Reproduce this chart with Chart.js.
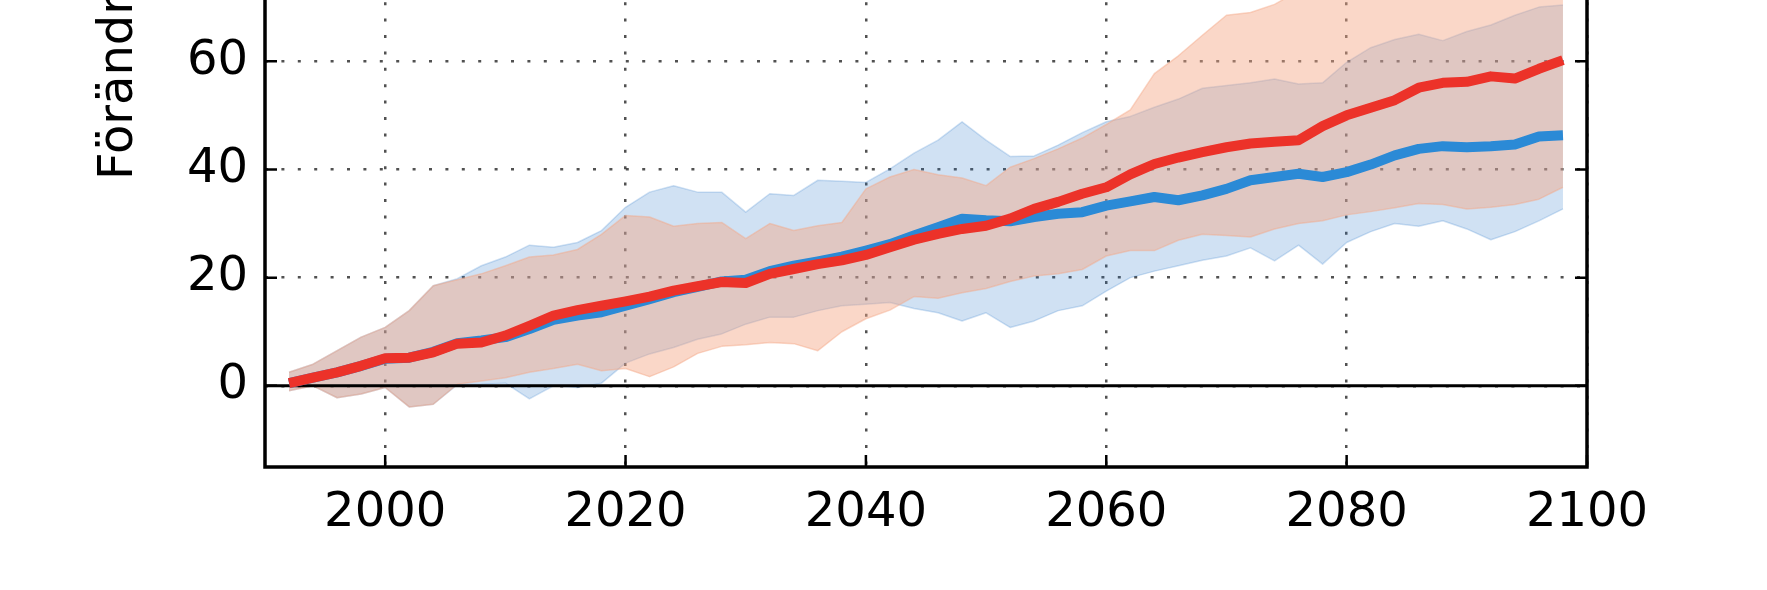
<!DOCTYPE html>
<html>
<head>
<meta charset="utf-8">
<script src="https://cdn.jsdelivr.net/npm/chart.js@4"></script>
<style>
  html, body { margin: 0; padding: 0; background: #fff; }
  #wrap { position: relative; width: 1767px; height: 590px; overflow: hidden; }
  #chart { position: absolute; left: 0; top: -100px; }
  #ytitle {
    position: absolute; left: 91px; top: 180px;
    font: 48px "DejaVu Sans"; line-height: 1; color: #000;
    transform-origin: 0 0; transform: rotate(-90deg); white-space: nowrap;
  }
</style>
</head>
<body>
<div id="wrap">
  <canvas id="chart" width="1767" height="690"></canvas>
  <div id="ytitle">Förändring (%)</div>
</div>
<script>
const years = [1992, 1994, 1996, 1998, 2000, 2002, 2004, 2006, 2008, 2010,
  2012, 2014, 2016, 2018, 2020, 2022, 2024, 2026, 2028, 2030,
  2032, 2034, 2036, 2038, 2040, 2042, 2044, 2046, 2048, 2050,
  2052, 2054, 2056, 2058, 2060, 2062, 2064, 2066, 2068, 2070,
  2072, 2074, 2076, 2078, 2080, 2082, 2084, 2086, 2088, 2090,
  2092, 2094, 2096, 2098];

// ensemble means
const red = [0.5, 1.5, 2.5, 3.7, 5.1, 5.2, 6.2, 7.8, 8.0, 9.3,
  11.1, 13.0, 14.0, 14.8, 15.6, 16.5, 17.6, 18.4, 19.2, 19.0,
  20.7, 21.6, 22.5, 23.2, 24.2, 25.6, 27.0, 28.1, 29.0, 29.6,
  30.9, 32.7, 34.0, 35.5, 36.7, 39.1, 41.0, 42.2, 43.2, 44.1,
  44.8, 45.1, 45.4, 48.0, 50.0, 51.4, 52.8, 55.1, 56.0, 56.2,
  57.2, 56.8, 58.6, 60.2];
const blue = [0.5, 1.5, 2.5, 3.7, 5.0, 5.2, 6.3, 7.9, 8.4, 9.0,
  10.5, 12.2, 13.0, 13.6, 14.8, 16.0, 17.3, 18.3, 19.3, 19.6,
  21.2, 22.2, 23.0, 23.9, 25.0, 26.2, 27.8, 29.3, 30.9, 30.6,
  30.4, 31.2, 31.8, 32.1, 33.3, 34.1, 34.9, 34.3, 35.2, 36.4,
  38.0, 38.6, 39.2, 38.6, 39.5, 40.9, 42.6, 43.8, 44.3, 44.1,
  44.3, 44.6, 46.1, 46.3];

// spread (low / high)
const redLow = [-0.9, 0.0, -2.2, -1.5, -0.3, -3.9, -3.4, 0.3, 0.9, 1.5,
  2.5, 3.2, 4.0, 2.8, 3.2, 1.7, 3.5, 6.0, 7.3, 7.6,
  8.0, 7.8, 6.5, 10.0, 12.4, 14.0, 16.5, 16.2, 17.2, 18.0,
  19.3, 20.3, 20.7, 21.5, 24.0, 25.0, 25.0, 26.9, 28.0, 27.8,
  27.5, 29.0, 30.0, 30.5, 31.6, 32.2, 32.9, 33.7, 33.5, 32.7,
  33.0, 33.5, 34.5, 36.7];
const redHigh = [2.5, 4.0, 6.5, 9.0, 10.8, 13.9, 18.5, 19.6, 20.7, 22.2,
  23.8, 24.2, 25.2, 28.0, 31.5, 31.2, 29.5, 30.0, 30.2, 27.2,
  30.0, 28.7, 29.6, 30.2, 36.4, 38.6, 40.0, 39.0, 38.4, 37.0,
  40.4, 42.0, 43.8, 45.8, 48.3, 51.0, 57.7, 61.0, 64.8, 68.5,
  69.0, 70.5, 73.0, 75.0, 76.0, 78.0, 79.0, 78.0, 79.0, 80.0,
  80.0, 81.0, 82.0, 83.0];
const blueLow = [-0.9, 0.0, -2.2, -1.5, -0.3, -3.9, -3.4, 0.2, 0.3, 0.5,
  -2.4, 0.0, -0.3, 0.5, 4.2, 5.9, 7.1, 8.6, 9.6, 11.4,
  12.7, 12.7, 13.9, 14.8, 15.1, 15.4, 14.3, 13.5, 12.0, 13.5,
  10.8, 12.0, 13.9, 14.8, 17.5, 20.0, 21.2, 22.2, 23.2, 24.0,
  25.5, 23.1, 26.0, 22.5, 26.5, 28.5, 30.0, 29.5, 30.5, 29.0,
  27.0, 28.5, 30.5, 32.7];
const blueHigh = [2.5, 4.0, 6.5, 9.0, 10.8, 13.9, 18.5, 19.8, 22.2, 23.8,
  26.0, 25.6, 26.5, 28.7, 33.0, 35.8, 37.0, 35.8, 35.8, 32.1,
  35.5, 35.2, 38.0, 37.8, 37.6, 40.1, 43.0, 45.4, 48.8, 45.4,
  42.4, 42.5, 44.5, 46.8, 48.8, 49.8, 51.5, 53.0, 55.0, 55.5,
  56.0, 56.7, 55.8, 56.0, 59.8, 62.5, 64.0, 65.0, 63.8, 65.5,
  66.7, 68.5, 70.0, 70.4];

const xTicks = [2000, 2020, 2040, 2060, 2080, 2100];
const yTicks = [0, 20, 40, 60, 80];

const redBand = 'rgba(244, 167, 133, 0.45)';
const blueBand = 'rgba(40, 120, 200, 0.22)';
const tickFont = { family: 'DejaVu Sans', size: 48 };

const pts = vals => years.map((yr, i) => ({ x: yr, y: vals[i] }));

// zero line, box and inward ticks like the matplotlib original
const framePlugin = {
  id: 'frame',
  beforeDatasetDraw(chart, args) {
    if (args.index !== 1) return;
    const { ctx, chartArea: a, scales: { y } } = chart;
    const y0 = y.getPixelForValue(0);
    ctx.save();
    ctx.strokeStyle = '#000';
    ctx.lineWidth = 3;
    ctx.beginPath();
    ctx.moveTo(a.left, y0);
    ctx.lineTo(a.right, y0);
    ctx.stroke();
    ctx.restore();
  },
  afterDatasetsDraw(chart) {
    const { ctx, chartArea: a, scales: { x, y } } = chart;
    ctx.save();
    ctx.strokeStyle = '#000';
    ctx.lineWidth = 2.5;
    ctx.beginPath();
    xTicks.forEach(v => {
      const px = x.getPixelForValue(v);
      ctx.moveTo(px, a.bottom); ctx.lineTo(px, a.bottom - 12);
      ctx.moveTo(px, a.top); ctx.lineTo(px, a.top + 12);
    });
    yTicks.forEach(v => {
      const py = y.getPixelForValue(v);
      ctx.moveTo(a.left, py); ctx.lineTo(a.left + 12, py);
      ctx.moveTo(a.right, py); ctx.lineTo(a.right - 12, py);
    });
    ctx.stroke();
    ctx.lineWidth = 3.5;
    ctx.strokeRect(a.left, a.top, a.right - a.left, a.bottom - a.top);
    ctx.restore();
  }
};

const chart = new Chart(document.getElementById('chart'), {
  type: 'line',
  data: {
    datasets: [
      { label: 'RCP8.5', data: pts(red), borderColor: '#ec3229', borderWidth: 10, fill: false, order: 0 },
      { label: 'RCP4.5', data: pts(blue), borderColor: '#2b8ad6', borderWidth: 10, fill: false, order: 1 },
      { data: pts(redLow), borderColor: redBand, borderWidth: 1.5, fill: false, order: 2 },
      { data: pts(redHigh), borderColor: redBand, backgroundColor: redBand, borderWidth: 1.5, fill: '-1', order: 2 },
      { data: pts(blueLow), borderColor: blueBand, borderWidth: 1.5, fill: false, order: 3 },
      { data: pts(blueHigh), borderColor: blueBand, backgroundColor: blueBand, borderWidth: 1.5, fill: '-1', order: 3 },
    ]
  },
  options: {
    responsive: false,
    animation: false,
    layout: { padding: { top: 53, right: 180, left: 0, bottom: 0 } },
    elements: {
      point: { radius: 0 },
      line: { tension: 0, borderJoinStyle: 'round' }
    },
    plugins: {
      legend: { display: false },
      tooltip: { enabled: false }
    },
    scales: {
      x: {
        type: 'linear',
        min: 1990,
        max: 2100,
        afterBuildTicks: s => { s.ticks = xTicks.map(v => ({ value: v })); },
        afterFit: s => { s.height = 123; },
        grid: { color: 'rgba(50, 50, 50, 0.85)', lineWidth: 2.5, drawTicks: false },
        border: { display: false, dash: [3, 13.4] },
        ticks: {
          padding: 18, font: tickFont, color: '#000', maxRotation: 0, autoSkip: false,
          callback: v => String(v)
        }
      },
      y: {
        min: -15,
        max: 80,
        afterBuildTicks: s => { s.ticks = yTicks.map(v => ({ value: v })); },
        afterFit: s => { s.width = 265; },
        grid: { color: 'rgba(50, 50, 50, 0.85)', lineWidth: 2.5, drawTicks: false },
        border: { display: false, dash: [3, 13.4] },
        ticks: { padding: 17, font: tickFont, color: '#000', callback: v => String(v) }
      }
    }
  },
  plugins: [framePlugin]
});
</script>
</body>
</html>
